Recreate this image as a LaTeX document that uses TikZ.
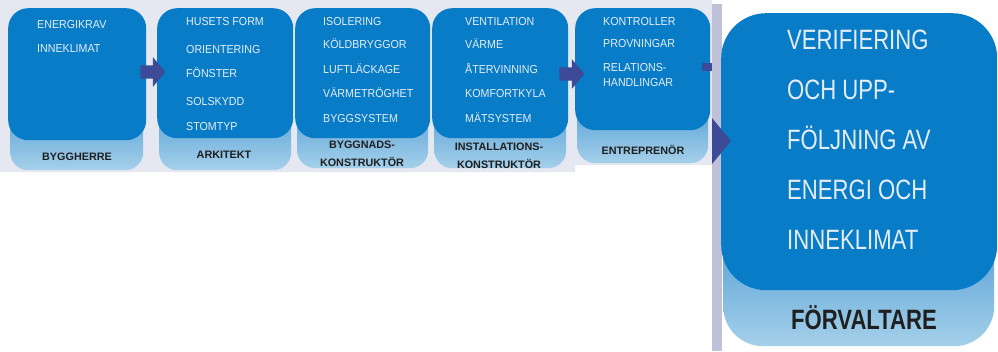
\documentclass[tikz,border=0pt]{standalone}
\usepackage{fontspec}
\setmainfont{Liberation Sans}
\newfontfamily\itemfamily{Liberation Sans}[FakeStretch=0.92]
\newfontfamily\bigfamily{Liberation Sans}[FakeStretch=0.79]
\usetikzlibrary{shapes.arrows}

\definecolor{boxblue}{RGB}{8,124,198}
\definecolor{baseblue}{RGB}{66,148,208}
\definecolor{paleblue}{RGB}{165,208,234}
\definecolor{itemwhite}{RGB}{228,237,246}
\definecolor{flowblue}{RGB}{60,74,152}
\definecolor{bandgray}{RGB}{230,232,241}
\definecolor{edgelilac}{RGB}{192,192,216}

\tikzset{
  topbox/.style={shape=rectangle, fill=boxblue, rounded corners=20pt, anchor=north west, inner sep=0pt},
  basebox/.style={shape=rectangle, top color=baseblue, bottom color=paleblue, rounded corners=18pt, anchor=north west, inner sep=0pt},
  item/.style={anchor=west, inner sep=0pt, text=itemwhite, font=\itemfamily\fontsize{11.6}{14}\selectfont, text height=8.3pt, text depth=0pt},
  role/.style={inner sep=0pt, align=center, text=black!88, font=\bfseries\fontsize{10.8}{18}\selectfont},
  flow/.style={shape=single arrow, fill=flowblue, inner sep=0pt, text height=13pt, text depth=0pt, single arrow head extend=8pt, minimum height=25pt, single arrow tip angle=100},
}

\begin{document}
\begin{tikzpicture}[x=1pt,y=-1pt]
            \useasboundingbox (0,0) rectangle (998,351);
            \fill[bandgray] (0,0) -- (712,0) -- (712,165) -- (575,165) -- (575,172) -- (0,172) -- cycle;

            % roles
            \node[basebox, minimum width=133pt, minimum height=80pt] (bygg) at (10,90) {};
            \node[topbox, minimum width=138pt, minimum height=132pt] (byggtop) at (8,8) {};
            \node[basebox, minimum width=132pt, minimum height=80pt] (ark) at (159,90) {};
            \node[topbox, minimum width=136pt, minimum height=130pt] (arktop) at (157,8) {};
            \node[basebox, minimum width=131pt, minimum height=78pt] (kon) at (297,90) {};
            \node[topbox, minimum width=135pt, minimum height=130pt] (kontop) at (295,8) {};
            \node[basebox, minimum width=132pt, minimum height=78pt] (inst) at (434,90) {};
            \node[topbox, minimum width=136pt, minimum height=130pt] (insttop) at (432,8) {};
            \node[basebox, minimum width=131pt, minimum height=73pt] (entr) at (577,90) {};
            \node[topbox, minimum width=135pt, minimum height=122pt] (entrtop) at (575,8) {};

            \node[role] at (77,157) {BYGGHERRE};
            \node[role] at (224,155) {ARKITEKT};
            \node[role] at (362,154) {BYGGNADS-\\KONSTRUKTÖR};
            \node[role] at (499,156) {INSTALLATIONS-\\KONSTRUKTÖR};
            \node[role] at (643,150) {ENTREPRENÖR};

            % items
            \node[item] (krav) at (37,24) {ENERGIKRAV};
            \node[item] (klimat) at (37,48) {INNEKLIMAT};

            \node[item] (form) at (186,21) {HUSETS FORM};
            \node[item] (orient) at (186,49) {ORIENTERING};
            \node[item] (fonster) at (186,73) {FÖNSTER};
            \node[item] (solskydd) at (186,101) {SOLSKYDD};
            \node[item] (stomtyp) at (186,126) {STOMTYP};

            \node[item] (isol) at (323,21) {ISOLERING};
            \node[item] (kold) at (323,44) {KÖLDBRYGGOR};
            \node[item] (luft) at (323,69) {LUFTLÄCKAGE};
            \node[item] (trog) at (323,93) {VÄRMETRÖGHET};
            \node[item] (bsys) at (323,118) {BYGGSYSTEM};

            \node[item] (vent) at (465,21) {VENTILATION};
            \node[item] (varme) at (465,44) {VÄRME};
            \node[item] (atervin) at (465,69) {ÅTERVINNING};
            \node[item] (kyla) at (465,93) {KOMFORTKYLA};
            \node[item] (msys) at (465,118) {MÄTSYSTEM};

            \node[item] (kontr) at (603,21) {KONTROLLER};
            \node[item] (prov) at (603,43) {PROVNINGAR};
            \node[item] (rel) at (603,67) {RELATIONS-};
            \node[item] (handl) at (603,82) {HANDLINGAR};

            % arrows
            \node[flow] (a1) at (150,72) {};
            \node[flow] (a2) at (569,74) {};
            \fill[flowblue] (702,63) rectangle (712,71);

            % manager
            \fill[edgelilac] (712,4) rectangle (722,351);
            \node[basebox, rounded corners=40pt, minimum width=271pt, minimum height=140pt] (forv) at (723,206) {};
            \node[topbox, rounded corners=45pt, minimum width=276pt, minimum height=277pt] (forvtop) at (721,13) {};
            \fill[flowblue] (712,118) -- (731,141) -- (712,164) -- cycle;
            \node[anchor=north west, inner sep=0pt, align=left, text=itemwhite, font=\bigfamily\fontsize{28}{50}\selectfont] (verif) at (787,30)
              {VERIFIERING\\OCH UPP-\\FÖLJNING AV\\ENERGI OCH\\INNEKLIMAT};
            \node[inner sep=0pt, text=black!88, font=\bigfamily\bfseries\fontsize{28}{30}\selectfont] at (864,318) {FÖRVALTARE};
        \end{tikzpicture}
\end{document}
